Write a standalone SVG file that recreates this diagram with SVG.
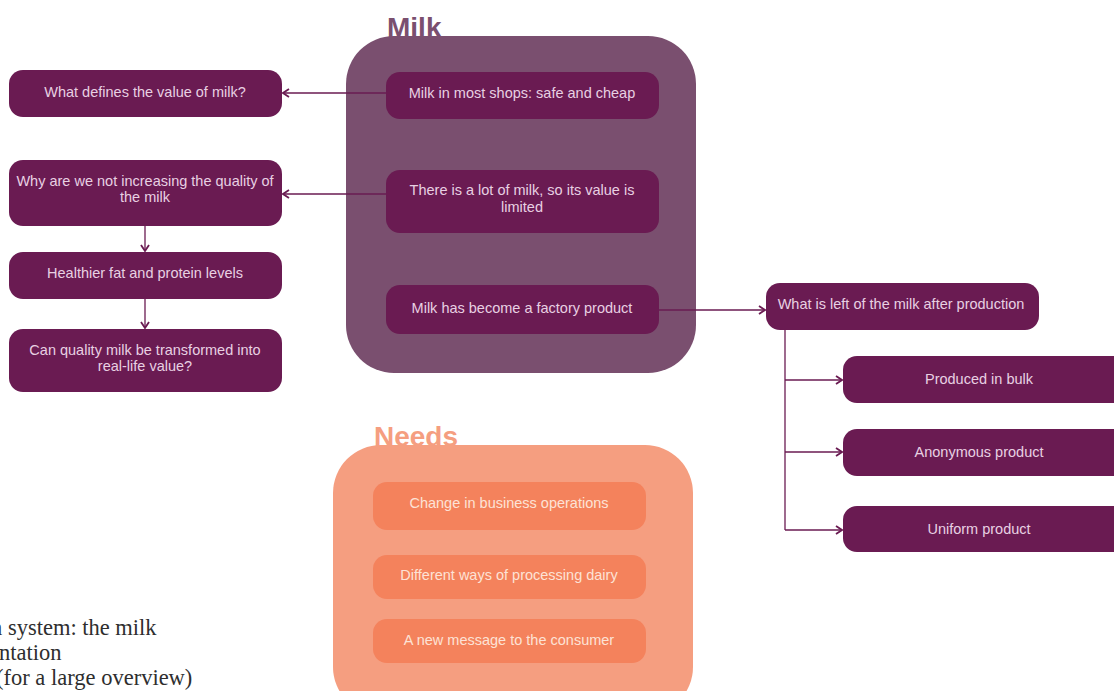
<svg xmlns="http://www.w3.org/2000/svg" width="1114" height="691" viewBox="0 0 1114 691">
<style>
.n{fill:#6a1b52}
.t{font-family:"Liberation Sans",Arial,sans-serif;font-size:14.5px;fill:#e8d0e2;text-anchor:middle}
.nn{fill:#f4825c}
.tn{font-family:"Liberation Sans",Arial,sans-serif;font-size:14.5px;fill:#fde2d6;text-anchor:middle}
.c{fill:none;stroke:#6a1b52;stroke-width:1.3}
.cap{font-family:"Liberation Serif","Times New Roman",serif;font-size:22.5px;fill:#2e2e2e}
</style>
<defs>
<marker id="a" viewBox="0 0 10 10" refX="9" refY="5" markerWidth="10" markerHeight="10" markerUnits="userSpaceOnUse" orient="auto">
<path d="M3,1 L9,5 L3,9" fill="none" stroke="#6a1b52" stroke-width="1.8"/>
</marker>
</defs>
<rect width="1114" height="691" fill="#ffffff"/>
<g id="milk-group">
<rect x="346" y="36" width="350" height="337" rx="48" fill="#7a4f6f"/>
<text x="387" y="37" font-family="Liberation Sans,Arial,sans-serif" font-size="28" font-weight="bold" fill="#7a4f6f">Milk</text>
</g>
<g id="needs-group">
<rect x="333" y="445" width="360" height="270" rx="48" fill="#f59e80"/>
<text x="374" y="446" font-family="Liberation Sans,Arial,sans-serif" font-size="28" font-weight="bold" fill="#f59e80">Needs</text>
</g>
<g id="connectors">
<path class="c" d="M386,93 H283" marker-end="url(#a)"/>
<path class="c" d="M386,194 H283" marker-end="url(#a)"/>
<path class="c" d="M145,226 V251" marker-end="url(#a)"/>
<path class="c" d="M145,299 V328" marker-end="url(#a)"/>
<path class="c" d="M659,310 H765" marker-end="url(#a)"/>
<path class="c" d="M785,330 V530"/>
<path class="c" d="M785,380 H842" marker-end="url(#a)"/>
<path class="c" d="M785,452 H842" marker-end="url(#a)"/>
<path class="c" d="M785,530 H842" marker-end="url(#a)"/>
</g>
<g id="m1"><rect class="n" x="386" y="72" width="273" height="47" rx="14"/><text class="t" x="522" y="98">Milk in most shops: safe and cheap</text></g>
<g id="m2"><rect class="n" x="386" y="170" width="273" height="63" rx="14"/><text class="t" x="522" y="195">There is a lot of milk, so its value is</text><text class="t" x="522" y="212">limited</text></g>
<g id="m3"><rect class="n" x="386" y="285" width="273" height="49" rx="14"/><text class="t" x="522" y="313">Milk has become a factory product</text></g>
<g id="l1"><rect class="n" x="9" y="70" width="273" height="47" rx="14"/><text class="t" x="145" y="97">What defines the value of milk?</text></g>
<g id="l2"><rect class="n" x="9" y="160" width="273" height="66" rx="14"/><text class="t" x="145" y="186">Why are we not increasing the quality of</text><text class="t" x="145" y="202">the milk</text></g>
<g id="l3"><rect class="n" x="9" y="252" width="273" height="47" rx="14"/><text class="t" x="145" y="278">Healthier fat and protein levels</text></g>
<g id="l4"><rect class="n" x="9" y="329" width="273" height="63" rx="14"/><text class="t" x="145" y="355">Can quality milk be transformed into</text><text class="t" x="145" y="371">real-life value?</text></g>
<g id="r0"><rect class="n" x="766" y="283" width="273" height="47" rx="14"/><text class="t" x="901" y="309">What is left of the milk after production</text></g>
<g id="r1"><rect class="n" x="843" y="356" width="290" height="47" rx="14"/><text class="t" x="979" y="384">Produced in bulk</text></g>
<g id="r2"><rect class="n" x="843" y="429" width="290" height="47" rx="14"/><text class="t" x="979" y="457">Anonymous product</text></g>
<g id="r3"><rect class="n" x="843" y="506" width="290" height="46" rx="14"/><text class="t" x="979" y="534">Uniform product</text></g>
<g id="n1"><rect class="nn" x="373" y="482" width="273" height="48" rx="14"/><text class="tn" x="509" y="508">Change in business operations</text></g>
<g id="n2"><rect class="nn" x="373" y="555" width="273" height="44" rx="14"/><text class="tn" x="509" y="580">Different ways of processing dairy</text></g>
<g id="n3"><rect class="nn" x="373" y="619" width="273" height="44" rx="14"/><text class="tn" x="509" y="645">A new message to the consumer</text></g>
<g id="caption">
<text class="cap" x="-9" y="635">n system: the milk</text>
<text class="cap" x="-1" y="660">ntation</text>
<text class="cap" x="-4" y="685">(for a large overview)</text>
</g>
</svg>
